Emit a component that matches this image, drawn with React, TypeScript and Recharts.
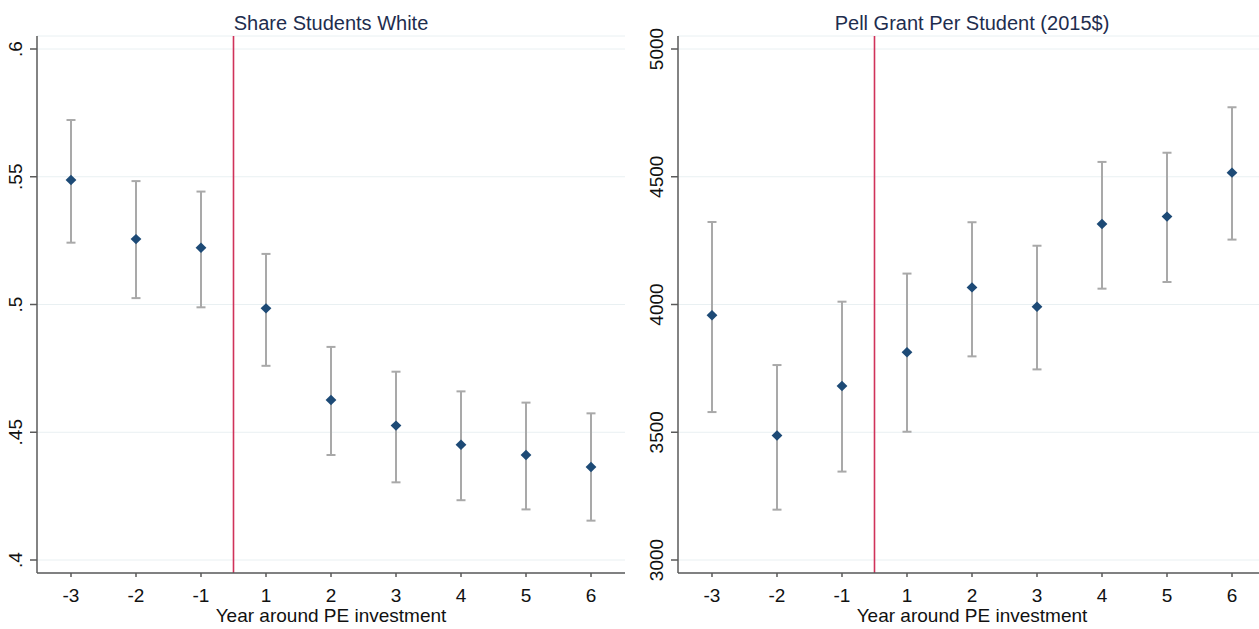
import React from "react";
import {
  CartesianGrid,
  ErrorBar,
  ReferenceLine,
  Scatter,
  ScatterChart,
  XAxis,
  YAxis,
} from "recharts";

// event-time categories, evenly spaced (there is no year 0)
const years = ["-3", "-2", "-1", "1", "2", "3", "4", "5", "6"];

// share of students white: point estimate and 95% CI
const whiteCoef = [0.5487, 0.5256, 0.5222, 0.4985, 0.4626, 0.4526, 0.4451, 0.4411, 0.4364];
const whiteLo = [0.5242, 0.5025, 0.4989, 0.476, 0.4411, 0.4304, 0.4234, 0.4198, 0.4154];
const whiteHi = [0.5722, 0.5483, 0.5442, 0.5198, 0.4834, 0.4737, 0.466, 0.4616, 0.4574];

// pell grant per student (2015$)
const pellCoef = [3958, 3487, 3681, 3813, 4067, 3991, 4315, 4344, 4516];
const pellLo = [3579, 3197, 3346, 3502, 3797, 3746, 4062, 4088, 4254];
const pellHi = [4323, 3763, 4011, 4121, 4322, 4230, 4558, 4594, 4772];

const whiteTicks = [0.4, 0.45, 0.5, 0.55, 0.6];
const whiteTickLabels = [".4", ".45", ".5", ".55", ".6"];
const pellTicks = [3000, 3500, 4000, 4500, 5000];
const pellTickLabels = ["3000", "3500", "4000", "4500", "5000"];

// investment happens between year -1 and year 1
const eventPos = 2.5;

const FONT = '"Liberation Sans", Arial, Helvetica, sans-serif';
const AXIS = "#5a5a5a";
const MARKER = "#1d4a76";
const CI = "#a9a9a9";
const RED = "#d0325a";

function build(coef: number[], lo: number[], hi: number[]) {
  return coef.map((v, i) => ({
    pos: i,
    value: v,
    err: [v - lo[i], hi[i] - v],
  }));
}

function Diamond(props: any) {
  const { cx, cy } = props;
  if (cx == null || cy == null) return null;
  const w = 5.4;
  const h = 5.2;
  return (
    <polygon
      points={`${cx},${cy - h} ${cx + w},${cy} ${cx},${cy + h} ${cx - w},${cy}`}
      fill={MARKER}
    />
  );
}

// stata-style y labels, rotated to read bottom-up
function RotTick(props: any) {
  const { x, y, payload, ticks, labels } = props;
  const label = labels[ticks.indexOf(payload.value)] ?? String(payload.value);
  return (
    <text
      x={x}
      y={y}
      transform={`rotate(-90 ${x} ${y})`}
      textAnchor="middle"
      fontSize={19}
      fontFamily={FONT}
      fill="#111"
    >
      {label}
    </text>
  );
}

interface PanelProps {
  left: number;
  width: number;
  yWidth: number;
  rightMargin: number;
  title: string;
  data: { pos: number; value: number; err: number[] }[];
  ticks: number[];
  labels: string[];
}

function Panel({ left, width, yWidth, rightMargin, title, data, ticks, labels }: PanelProps) {
  // stata leaves a small gap above the top tick and below the bottom one
  const pad = (13 / 511) * (ticks[ticks.length - 1] - ticks[0]);
  const cx = (yWidth + width - rightMargin) / 2;
  return (
    <div style={{ position: "absolute", left, top: 0, width, height: 629 }}>
      <ScatterChart
        width={width}
        height={629}
        margin={{ top: 36, right: rightMargin, bottom: 0, left: 0 }}
      >
        <CartesianGrid horizontal vertical={false} stroke="#e9f0f2" strokeWidth={1} />
        <XAxis
          type="number"
          dataKey="pos"
          domain={[-0.523, years.length - 1 + 0.523]}
          ticks={years.map((_, i) => i)}
          tickFormatter={(v: number) => years[v]}
          height={56}
          tickSize={4}
          tickMargin={12}
          axisLine={{ stroke: AXIS, strokeWidth: 1.5 }}
          tickLine={{ stroke: AXIS, strokeWidth: 1.5 }}
          tick={{ fontSize: 19, fill: "#111", fontFamily: FONT }}
          label={{
            value: "Year around PE investment",
            position: "insideBottom",
            offset: 7,
            fontSize: 19,
            fill: "#111",
            fontFamily: FONT,
          }}
        />
        <YAxis
          type="number"
          dataKey="value"
          domain={[ticks[0] - pad, ticks[ticks.length - 1] + pad]}
          ticks={ticks}
          width={yWidth}
          tickSize={7}
          tickMargin={8}
          allowDataOverflow
          axisLine={{ stroke: AXIS, strokeWidth: 1.5 }}
          tickLine={{ stroke: AXIS, strokeWidth: 1.5 }}
          tick={(p: any) => <RotTick {...p} ticks={ticks} labels={labels} />}
        />
        <ReferenceLine x={eventPos} stroke={RED} strokeWidth={1.6} />
        <Scatter data={data} dataKey="value" shape={Diamond} isAnimationActive={false}>
          <ErrorBar
            dataKey="err"
            direction="y"
            width={4.5}
            stroke={CI}
            strokeWidth={2}
            isAnimationActive={false}
          />
        </Scatter>
      </ScatterChart>
      <svg
        width={width}
        height={40}
        style={{ position: "absolute", left: 0, top: 0, pointerEvents: "none" }}
      >
        <text
          x={cx}
          y={29.5}
          textAnchor="middle"
          fontSize={20}
          fontFamily={FONT}
          fill="#1e2d4e"
        >
          {title}
        </text>
      </svg>
    </div>
  );
}

export default function App() {
  const white = build(whiteCoef, whiteLo, whiteHi);
  const pell = build(pellCoef, pellLo, pellHi);
  return (
    <div
      style={{
        position: "absolute",
        left: 0,
        top: 0,
        width: 1259,
        height: 629,
        overflow: "hidden",
        background: "#fff",
      }}
    >
      <Panel
        left={0}
        width={629}
        yWidth={37}
        rightMargin={4}
        title="Share Students White"
        data={white}
        ticks={whiteTicks}
        labels={whiteTickLabels}
      />
      <Panel
        left={629}
        width={637}
        yWidth={49}
        rightMargin={0}
        title="Pell Grant Per Student (2015$)"
        data={pell}
        ticks={pellTicks}
        labels={pellTickLabels}
      />
    </div>
  );
}
